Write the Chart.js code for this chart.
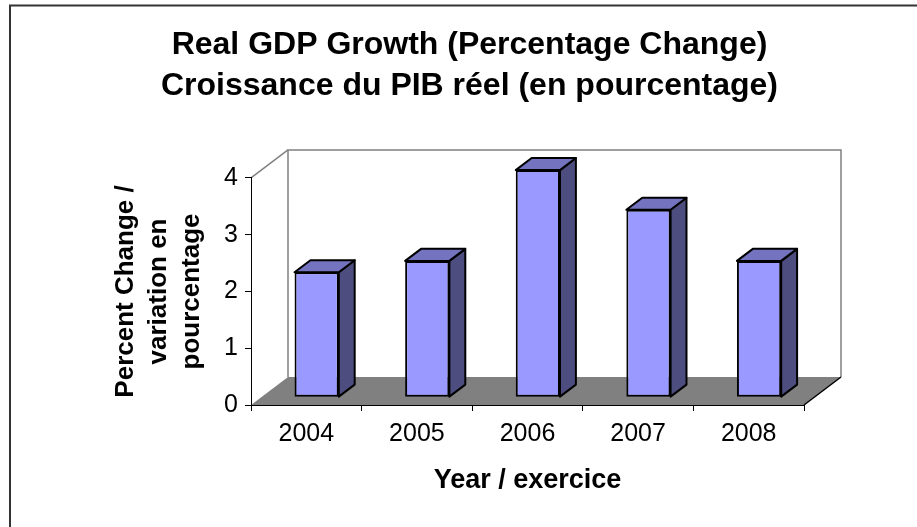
<!DOCTYPE html>
<html>
<head>
<meta charset="utf-8">
<script src="https://cdn.jsdelivr.net/npm/chart.js@4.4.1/dist/chart.umd.min.js"></script>
<style>
  body { margin: 0; background: #fff; }
  #wrap { width: 917px; height: 527px; }
</style>
</head>
<body>
<div id="wrap"><canvas id="gdp" width="917" height="527"></canvas></div>
<script>
// Chart data
const years = ["2004", "2005", "2006", "2007", "2008"];
const growth = [2.2, 2.4, 4.0, 3.3, 2.4];
const yTicks = [0, 1, 2, 3, 4];

const titleLines = ["Real GDP Growth (Percentage Change)", "Croissance du PIB réel (en pourcentage)"];
const yTitleLines = ["Percent Change /", "variation en", "pourcentage"];
const xTitle = "Year / exercice";

const FONT = "'Liberation Sans', Arial, sans-serif";

// 3D look: depth of the walls, and where the bars sit in that depth
const depth = { dx: 37, dy: -28 };
const barStart = 0.28;
const barDepth = 0.43;

// Draws the outer box, back wall and floor before the axes
const frame3d = {
    id: 'frame3d',
    beforeDraw(chart) {
        const ctx = chart.ctx;
        const a = chart.chartArea;
        const dx = depth.dx, dy = depth.dy;
        ctx.save();

        // outer border of the picture
        ctx.strokeStyle = '#333';
        ctx.lineWidth = 2;
        ctx.strokeRect(10, 5.5, 1000, 1000);

        // back wall
        ctx.strokeStyle = '#808080';
        ctx.lineWidth = 1.5;
        ctx.beginPath();
        ctx.moveTo(a.left + dx, a.bottom + dy);
        ctx.lineTo(a.left + dx, a.top + dy);
        ctx.lineTo(a.right + dx, a.top + dy);
        ctx.lineTo(a.right + dx, a.bottom + dy);
        ctx.stroke();

        // top edge of the side wall
        ctx.beginPath();
        ctx.moveTo(a.left, a.top);
        ctx.lineTo(a.left + dx, a.top + dy);
        ctx.stroke();

        // floor
        ctx.fillStyle = '#808080';
        ctx.beginPath();
        ctx.moveTo(a.left, a.bottom);
        ctx.lineTo(a.right, a.bottom);
        ctx.lineTo(a.right + dx, a.bottom + dy);
        ctx.lineTo(a.left + dx, a.bottom + dy);
        ctx.closePath();
        ctx.fill();

        ctx.strokeStyle = '#000';
        ctx.beginPath();
        ctx.moveTo(a.right, a.bottom);
        ctx.lineTo(a.right + dx, a.bottom + dy);
        ctx.stroke();

        ctx.restore();
    },
    // push the bars back into the depth
    beforeDatasetsDraw(chart) {
        chart.ctx.save();
        chart.ctx.translate(depth.dx * barStart, depth.dy * barStart);
    },
    // add the top and side faces, then undo the shift
    afterDatasetsDraw(chart) {
        const ctx = chart.ctx;
        const bdx = depth.dx * barDepth, bdy = depth.dy * barDepth;
        ctx.lineWidth = 2;
        ctx.lineJoin = 'round';
        ctx.strokeStyle = '#000';
        chart.getDatasetMeta(0).data.forEach(function (bar) {
            const l = bar.x - bar.width / 2;
            const r = bar.x + bar.width / 2;
            const t = bar.y;
            const b = bar.base;

            // side
            ctx.fillStyle = '#4D4D80';
            ctx.beginPath();
            ctx.moveTo(r, t);
            ctx.lineTo(r + bdx, t + bdy);
            ctx.lineTo(r + bdx, b + bdy);
            ctx.lineTo(r, b);
            ctx.closePath();
            ctx.fill();
            ctx.stroke();

            // top
            ctx.fillStyle = '#7373BF';
            ctx.beginPath();
            ctx.moveTo(l, t);
            ctx.lineTo(l + bdx, t + bdy);
            ctx.lineTo(r + bdx, t + bdy);
            ctx.lineTo(r, t);
            ctx.closePath();
            ctx.fill();
            ctx.stroke();
        });
        ctx.restore();
    }
};

new Chart(document.getElementById('gdp'), {
    type: 'bar',
    plugins: [frame3d],
    data: {
        labels: years,
        datasets: [{
            data: growth,
            backgroundColor: '#9999FF',
            borderColor: '#000',
            borderWidth: 2,
            borderSkipped: false,
            barPercentage: 0.4,
            categoryPercentage: 1.0,
            clip: false
        }]
    },
    options: {
        responsive: false,
        animation: false,
        layout: { padding: { left: 22, right: 0, top: 0, bottom: 0 } },
        plugins: {
            legend: { display: false },
            tooltip: { enabled: false },
            title: {
                display: true,
                text: titleLines,
                color: '#000',
                font: { family: FONT, size: 32, weight: 'bold', lineHeight: 1.28 },
                padding: { top: 25, bottom: 71 }
            }
        },
        scales: {
            x: {
                grid: { drawOnChartArea: false, tickLength: 6, color: '#000', offset: true },
                border: { color: '#000', width: 1 },
                ticks: { color: '#000', padding: 8, font: { family: FONT, size: 25 } },
                title: {
                    display: true,
                    text: xTitle,
                    color: '#000',
                    font: { family: FONT, size: 27, weight: 'bold', lineHeight: 1.2 },
                    padding: { top: 0, bottom: 30 }
                },
                afterFit(scale) { scale.height = 122; }
            },
            y: {
                min: 0,
                max: 4,
                afterBuildTicks(scale) { scale.ticks = yTicks.map(v => ({ value: v })); },
                grid: { drawOnChartArea: false, tickLength: 6, color: '#000' },
                border: { color: '#000', width: 1 },
                ticks: { color: '#000', padding: 7, font: { family: FONT, size: 25 } },
                title: {
                    display: true,
                    text: yTitleLines,
                    color: '#000',
                    font: { family: FONT, size: 26, weight: 'bold', lineHeight: 1.28 },
                    padding: { top: 87, bottom: 0 }
                },
                afterFit(scale) { scale.width = 229; }
            },
            // empty right-hand box that keeps the plot off the right side
            yr: {
                type: 'linear',
                position: 'right',
                grid: { display: false },
                border: { display: false },
                ticks: { display: false },
                afterFit(scale) { scale.width = 113; }
            }
        }
    }
});
</script>
</body>
</html>
